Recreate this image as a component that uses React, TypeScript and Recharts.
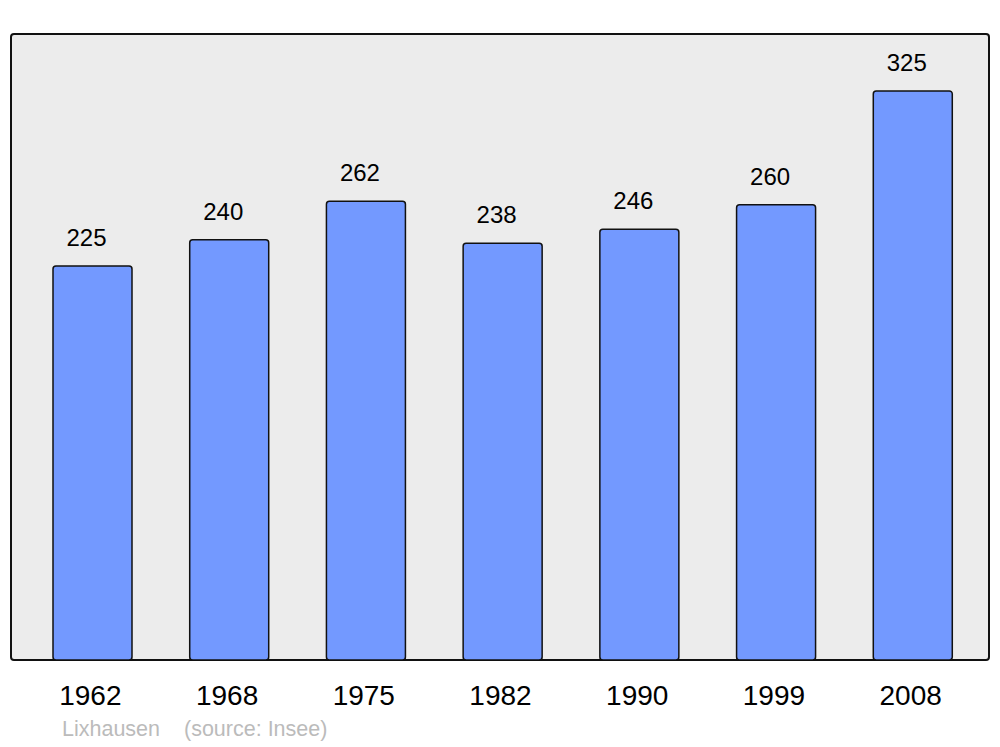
import { BarChart, Bar, XAxis, YAxis, LabelList } from 'recharts';

// population by census year
const years = ['1962', '1968', '1975', '1982', '1990', '1999', '2008'];
const population = [225, 240, 262, 238, 246, 260, 325];

const data = years.map((year, i) => ({ year, value: population[i] }));

const FONT = '"Liberation Sans", Arial, sans-serif';

function ValueLabel(props: any) {
  const { x, y, width, value } = props;
  return (
    <text
      x={x + width / 2 - 6}
      y={y - 20}
      textAnchor="middle"
      fontSize={24}
      fontFamily={FONT}
      fill="#000"
    >
      {value}
    </text>
  );
}

function YearTick(props: any) {
  const { x, payload } = props;
  return (
    <text
      x={x - 2}
      y={705}
      textAnchor="middle"
      fontSize={28}
      fontFamily={FONT}
      fill="#000"
    >
      {payload.value}
    </text>
  );
}

export default function App() {
  return (
    <div
      style={{
        position: 'absolute',
        left: 0,
        top: 0,
        width: 1000,
        height: 747,
        background: '#fff',
        fontFamily: FONT,
      }}
    >
      {/* framed grey background */}
      <div
        style={{
          position: 'absolute',
          left: 10,
          top: 33,
          width: 980,
          height: 628,
          boxSizing: 'border-box',
          border: '2.5px solid #111',
          borderRadius: 4,
          background: '#ececec',
        }}
      />
      <div style={{ position: 'absolute', left: 0, top: 0 }}>
        <BarChart
          width={1000}
          height={747}
          data={data}
          margin={{ top: 34, right: 11, bottom: 57, left: 11 }}
        >
          <XAxis
            dataKey="year"
            height={30}
            axisLine={false}
            tickLine={false}
            padding={{ left: 13, right: 8 }}
            tick={<YearTick />}
            interval={0}
          />
          <YAxis hide domain={[0, 357.5]} />
          <Bar
            dataKey="value"
            fill="#7399ff"
            stroke="#111"
            strokeWidth={1.5}
            radius={3}
            barSize={79}
            isAnimationActive={false}
          >
            <LabelList dataKey="value" content={<ValueLabel />} />
          </Bar>
        </BarChart>
      </div>
      <div
        style={{
          position: 'absolute',
          left: 62,
          top: 717,
          fontSize: 21.5,
          color: '#bbb',
          lineHeight: '24px',
        }}
      >
        Lixhausen
      </div>
      <div
        style={{
          position: 'absolute',
          left: 184,
          top: 717,
          fontSize: 21.5,
          color: '#bbb',
          lineHeight: '24px',
        }}
      >
        (source: Insee)
      </div>
    </div>
  );
}
